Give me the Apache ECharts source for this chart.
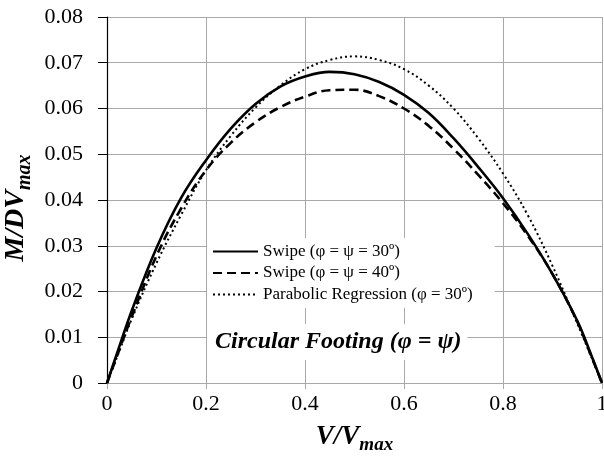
<!DOCTYPE html>
<html>
<head>
<meta charset="utf-8">
<script src="https://cdn.jsdelivr.net/npm/echarts@6/dist/echarts.min.js"></script>
<style>
html,body{margin:0;padding:0;background:#fff;}
#chart{width:604px;height:464px;}
</style>
</head>
<body>
<div id="chart"></div>
<script>
var vRatio = [0, 0.025, 0.05, 0.1, 0.15, 0.2, 0.25, 0.3, 0.35, 0.4, 0.45, 0.5, 0.55, 0.6, 0.65, 0.7, 0.75, 0.8, 0.85, 0.9, 0.95, 0.975, 1];
var swipe30 = [0, 0.0080, 0.0158, 0.0295, 0.0405, 0.0487, 0.0556, 0.0610, 0.0648, 0.0670, 0.0680, 0.0675, 0.0658, 0.0630, 0.0590, 0.0535, 0.0472, 0.0404, 0.0326, 0.0238, 0.0136, 0.0070, 0];
var swipe40 = [0, 0.0073, 0.0145, 0.0278, 0.0382, 0.0465, 0.0525, 0.0570, 0.0603, 0.0626, 0.0640, 0.0641, 0.0627, 0.0600, 0.0562, 0.0512, 0.0455, 0.0393, 0.0322, 0.0238, 0.0134, 0.0068, 0];
var parabolic30 = [0, 0.0070, 0.0140, 0.0262, 0.0368, 0.0465, 0.0540, 0.0602, 0.0650, 0.0686, 0.0706, 0.0714, 0.0706, 0.0686, 0.0650, 0.0600, 0.0535, 0.0458, 0.0367, 0.0256, 0.0130, 0.0066, 0];
var seriesNames = ['Swipe (φ = ψ = 30º)', 'Swipe (φ = ψ = 40º)', 'Parabolic Regression (φ = 30º)'];
var annotation = 'Circular Footing (φ = ψ)';

function pairs(ys){ return vRatio.map(function(x,i){ return [x, ys[i]]; }); }

var FONT = '"Liberation Serif", "Times New Roman", serif';
var GRID = '#a8a8a8';
var chart = echarts.init(document.getElementById('chart'), null, {renderer:'canvas'});
chart.setOption({
  animation: false,
  backgroundColor: '#fff',
  grid: {left: 107, right: 2, top: 17, bottom: 81, containLabel: false, outerBoundsMode: 'none'},
  xAxis: {
    type: 'value', min: 0, max: 1, interval: 0.2,
    axisLine: {show: true, lineStyle: {color: GRID, width: 1}},
    axisTick: {show: true, length: 6, lineStyle: {color: GRID}},
    splitLine: {show: true, lineStyle: {color: GRID, width: 1}},
    axisLabel: {fontFamily: FONT, fontSize: 22, color: '#000', margin: 10},
    name: '{m|V/V}{s|max}',
    nameLocation: 'middle', nameGap: 41,
    nameTextStyle: {
      rich: {
        m: {fontFamily: FONT, fontSize: 27, fontWeight: 'bold', fontStyle: 'italic', color: '#000', verticalAlign: 'top'},
        s: {fontFamily: FONT, fontSize: 19, fontWeight: 'bold', fontStyle: 'italic', color: '#000', padding: [12, 0, 0, 0], verticalAlign: 'top'}
      }
    }
  },
  yAxis: {
    type: 'value', min: 0, max: 0.08, interval: 0.01,
    axisLine: {show: true, lineStyle: {color: '#000', width: 1.2}},
    axisTick: {show: true, length: 9, lineStyle: {color: '#000'}},
    splitLine: {show: true, lineStyle: {color: GRID, width: 1}},
    axisLabel: {fontFamily: FONT, fontSize: 22, color: '#000', margin: 24},
    name: '{m|M/DV}{s|max}',
    nameLocation: 'middle', nameGap: 72, nameMoveOverlap: false,
    nameTextStyle: {
      padding: [0, 16, 0, 0],
      rich: {
        m: {fontFamily: FONT, fontSize: 28, fontWeight: 'bold', fontStyle: 'italic', color: '#000', verticalAlign: 'top'},
        s: {fontFamily: FONT, fontSize: 20, fontWeight: 'bold', fontStyle: 'italic', color: '#000', padding: [13, 0, 0, 0], verticalAlign: 'top'}
      }
    }
  },
  legend: {
    show: true, orient: 'vertical', left: 207, top: 238,
    backgroundColor: '#fff', padding: [5, 22, 5, 5],
    itemWidth: 45, itemHeight: 14, itemGap: 4.5,
    itemStyle: {opacity: 0},
    textStyle: {fontFamily: FONT, fontSize: 17, color: '#000'},
    data: seriesNames
  },
  graphic: [{
    type: 'text', left: 207, top: 324, z: 100,
    style: {
      text: annotation,
      font: 'italic bold 24px ' + FONT,
      fill: '#000',
      backgroundColor: '#fff',
      padding: [6, 6, 6, 8]
    }
  }],
  series: [
    {name: seriesNames[0], type: 'line', data: pairs(swipe30), smooth: 0.4, symbol: 'none',
     lineStyle: {color: '#000', width: 2.6, type: 'solid'}, itemStyle: {color: '#000'}},
    {name: seriesNames[1], type: 'line', data: pairs(swipe40), smooth: 0.4, symbol: 'none',
     lineStyle: {color: '#000', width: 2.6, type: [9, 5]}, itemStyle: {color: '#000'}},
    {name: seriesNames[2], type: 'line', data: pairs(parabolic30), smooth: 0.4, symbol: 'none',
     lineStyle: {color: '#000', width: 2, type: [2, 3]}, itemStyle: {color: '#000'}}
  ]
});
</script>
</body>
</html>
